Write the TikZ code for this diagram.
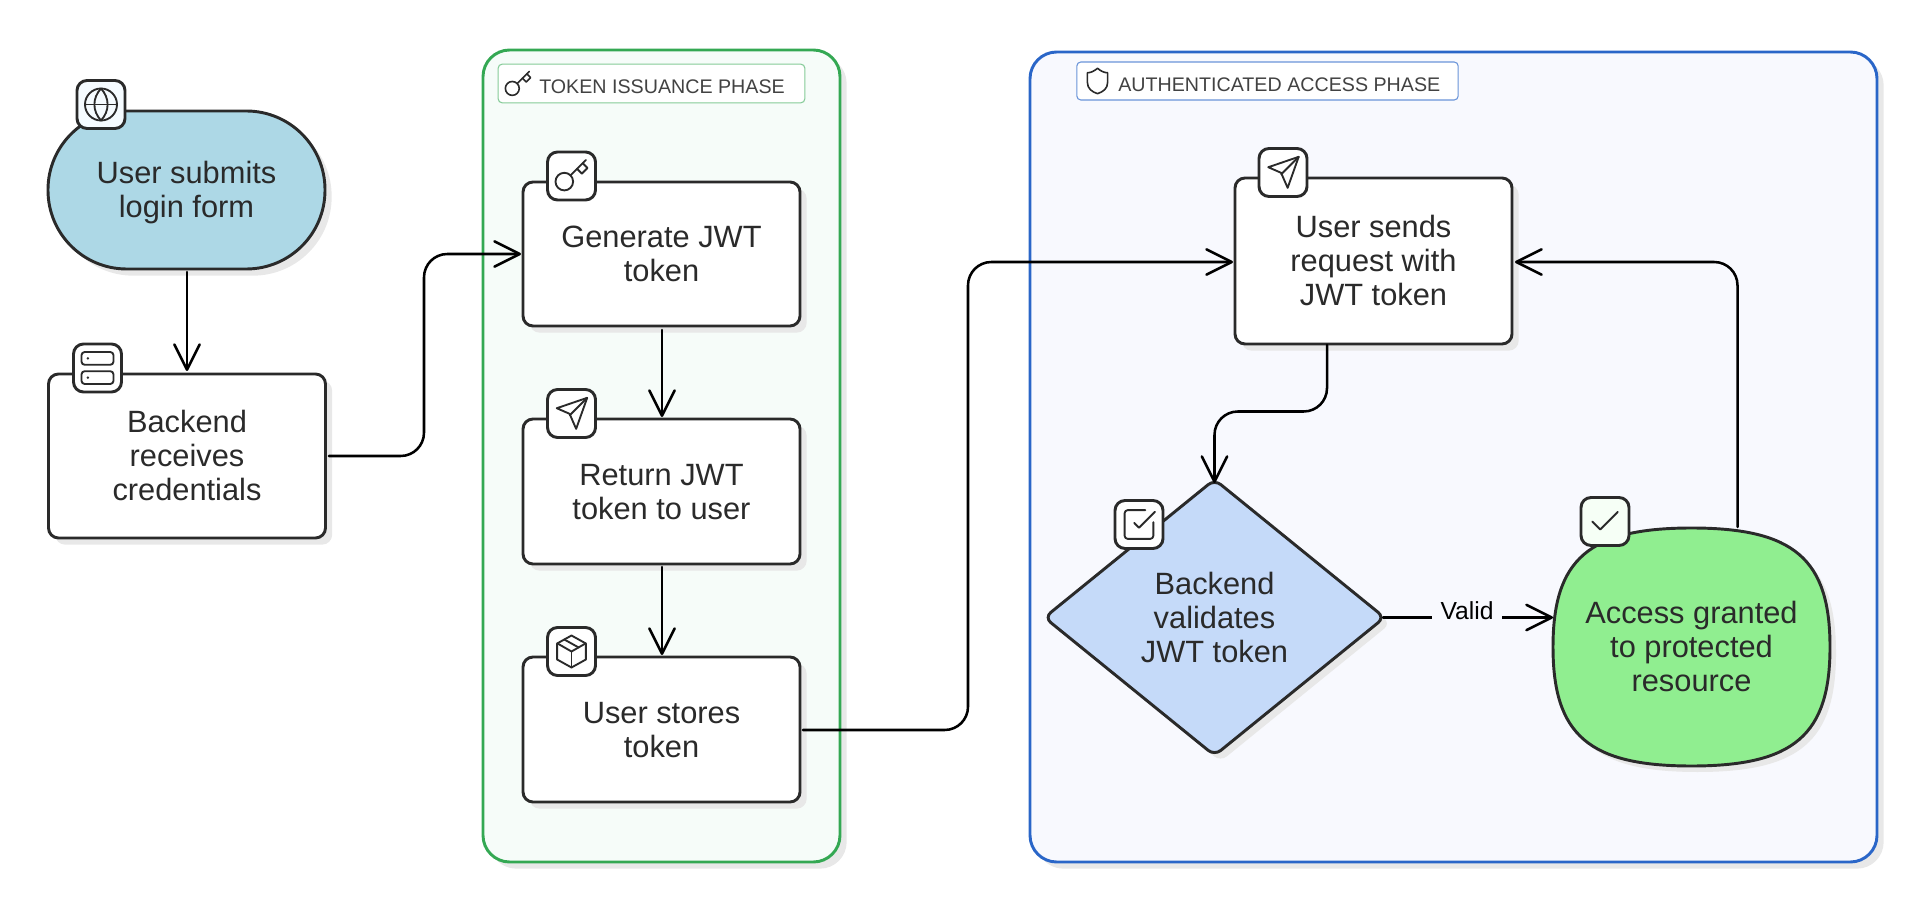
\documentclass[tikz,border=0pt]{standalone}
\usepackage{fontspec}
\setmainfont{Liberation Sans}
\usetikzlibrary{arrows.meta,shadows,shapes.geometric,calc}
\definecolor{ink}{HTML}{2A2A2A}
\definecolor{shadowgray}{HTML}{E8E8E8}
\definecolor{gline}{HTML}{34A853}
\definecolor{gfill}{HTML}{F6FCF9}
\definecolor{bline}{HTML}{2A66C8}
\definecolor{bfill}{HTML}{F8F9FE}
\definecolor{startfill}{RGB}{173,216,230}
\definecolor{grantfill}{RGB}{144,238,144}
\definecolor{checkfill}{RGB}{197,218,249}
\newcommand{\nodefont}{\fontsize{23.1pt}{25.5pt}\selectfont}
\newcommand{\ntxt}[1]{\raisebox{-3.1pt}[\height][\depth]{\begin{tabular}{@{}c@{}}#1\end{tabular}}}
\tikzset{
  x=0.75pt,y=-0.75pt,
  shad/.style={general shadow={shadow xshift=5pt,shadow yshift=-5pt,fill=shadowgray}},
  flowbox/.style={shape=rectangle,draw=ink,line width=2.2pt,fill=white,rounded corners=7.5pt,inner sep=0pt,
    text=ink,font=\nodefont,shad,anchor=center},
  plainlabel/.style={text=ink,font=\nodefont,inner sep=0pt},
  blobpath/.style={draw=ink,line width=2.2pt},
  groupbox/.style={shape=rectangle,line width=2.2pt,rounded corners=20pt,inner sep=0pt,shad},
  tagbox/.style={shape=rectangle,line width=0.8pt,rounded corners=3pt,fill=white,inner sep=0pt},
  tagtext/.style={text=black!74,font=\fontsize{14.75pt}{18pt}\selectfont,inner sep=0pt},
  iconbox/.style={shape=rectangle,draw=ink,line width=2.2pt,rounded corners=7.5pt,minimum width=36pt,minimum height=36pt,inner sep=0pt},
  iconline/.style={draw=ink,line width=1.4pt,line cap=round,line join=round},
  conn/.style={draw=black,line width=1.9pt,rounded corners=17.5pt,line cap=round,
    -{Straight Barb[length=19pt,width=19pt,line width=1.9pt,round]}},
}
\newcommand{\iconat}[3]{\begin{scope}[shift={(#1,#2)},x=1.2pt,y=-1.2pt,xshift=-14.4pt,yshift=14.4pt,iconline]#3\end{scope}}
\newcommand{\icglobe}{\draw (12,12) circle[radius=12pt]; \draw (2,12)--(22,12); \draw (12,2) .. controls (6.5,8) and (6.5,16) .. (12,22) .. controls (17.5,16) and (17.5,8) .. (12,2);}
\newcommand{\ickey}{\draw (7.5,15.5) circle[radius=6.6pt]; \draw (21,2)--(11.4,11.6); \draw (15.5,7.5)--(18.5,10.5)--(22,7)--(19,4);}
\newcommand{\icsend}{\draw (21.8,2.2)--(2.8,8.7)--(10.8,12.2)--(14.9,21.6)--cycle; \draw (21.8,2.2)--(10.9,13.1);}
\newcommand{\icpack}{\draw (12,2)--(21,7)--(21,17)--(12,22)--(3,17)--(3,7)--cycle; \draw (3.3,7)--(12,12)--(20.7,7); \draw (12,22)--(12,12); \draw (7.5,4.5)--(16.5,9.5);}
\newcommand{\icserver}{\draw[rounded corners=2.4pt] (2,2) rectangle (22,10); \draw[rounded corners=2.4pt] (2,14) rectangle (22,22); \fill[ink] (6,6) circle[radius=1pt]; \fill[ink] (6,18) circle[radius=1pt];}
\newcommand{\iccheckbox}{\draw[rounded corners=2.4pt] (21,10.5)--(21,21)--(3,21)--(3,3)--(16,3); \draw (9,11)--(12,14)--(22,4);}
\newcommand{\iccheck}{\draw (20,6)--(9,17)--(4,12);}
\newcommand{\icshield}{\draw (20,13) .. controls (20,18) and (16.5,20.5) .. (12,22) .. controls (7.5,20.5) and (4,18) .. (4,13)--(4,5.5) .. controls (7,5.5) and (9.5,4) .. (12,2) .. controls (14.5,4) and (17,5.5) .. (20,5.5)--cycle;}
% blob outline around (0,0), half sizes 138.5 x 119
\newcommand{\blobshape}{(138.5,0) .. controls (138.5,88) and (102.5,119) .. (0,119) .. controls (-102.5,119) and (-138.5,88) .. (-138.5,0) .. controls (-138.5,-88) and (-102.5,-119) .. (0,-119) .. controls (102.5,-119) and (138.5,-88) .. (138.5,0) -- cycle}
\newcommand{\diamshape}{(1214.5,479.5)--(1384.5,617.5)--(1214.5,755.5)--(1044.5,617.5)--cycle}
\begin{document}
\begin{tikzpicture}
\useasboundingbox (0,0) rectangle (1927,912);
% groups
\node[groupbox,draw=gline,fill=gfill,minimum width=267.75pt,minimum height=609pt] (gtoken) at (661.5,456) {};
\node[groupbox,draw=bline,fill=bfill,minimum width=635.25pt,minimum height=607.5pt] (gaccess) at (1453.5,457) {};
\node[tagbox,draw=gline!60,minimum width=230pt,minimum height=29pt] (ltoken) at (651.5,83.5) {};
\node[tagbox,draw=bline!70,minimum width=286pt,minimum height=28.5pt] (laccess) at (1267.5,81) {};
\node[tagtext,anchor=west] (ttoken) at (539,87) {TOKEN ISSUANCE PHASE};
\node[tagtext,anchor=west] (taccess) at (1118,85) {AUTHENTICATED ACCESS PHASE};
% nodes
\node[flowbox,minimum width=207.75pt,minimum height=118.5pt,rounded corners=59pt,fill=startfill] (start) at (186.5,190) {\ntxt{User submits\\login form}};
\node[flowbox,minimum width=207.75pt,minimum height=123pt] (backend) at (187,456) {\ntxt{Backend\\receives\\credentials}};
\node[flowbox,minimum width=207.75pt,minimum height=108pt] (gen) at (661.5,254) {\ntxt{Generate JWT\\token}};
\node[flowbox,minimum width=207.75pt,minimum height=108.75pt] (ret) at (661.5,491.5) {\ntxt{Return JWT\\token to user}};
\node[flowbox,minimum width=207.75pt,minimum height=108.75pt] (store) at (661.5,729.5) {\ntxt{User stores\\token}};
\node[flowbox,minimum width=207.75pt,minimum height=124.5pt] (send) at (1373.5,261) {\ntxt{User sends\\request with\\JWT token}};
% access blob
\begin{scope}[shift={(1697.5,653)}]\path[fill=shadowgray] \blobshape;\end{scope}
\begin{scope}[shift={(1691.5,647)}]\path[blobpath,fill=grantfill] \blobshape;\end{scope}
\node[plainlabel] (grant) at (1691.5,647) {\ntxt{Access granted\\to protected\\resource}};
% decision diamond
\path[fill=shadowgray,rounded corners=6pt,shift={(6,6)}] \diamshape;
\path[blobpath,fill=checkfill,rounded corners=6pt] \diamshape;
\node[plainlabel] (check) at (1214.5,617.5) {\ntxt{Backend\\validates\\JWT token}};
% connectors
\coordinate (a1) at (187,272);
\coordinate (b1) at (187,371);
\draw[conn] (a1)--(b1);
\coordinate (a2) at (329,456);
\coordinate (b2) at (521,254);
\draw[conn] (a2)-|(424,355)|-(b2);
\coordinate (a3) at (662,330);
\coordinate (b3) at (662,417);
\draw[conn] (a3)--(b3);
\coordinate (a4) at (662,567);
\coordinate (b4) at (662,655);
\draw[conn] (a4)--(b4);
\coordinate (a5) at (803,730);
\coordinate (b5) at (1233,262);
\draw[conn] (a5)-|(968,500)|-(b5);
\coordinate (a6) at (1327,345);
\coordinate (b6) at (1214.5,483);
\draw[conn] (a6)|-(1270,411.5)-|(b6);
\coordinate (a7) at (1737.5,527);
\coordinate (b7) at (1515,262);
\draw[conn] (a7)|-(b7);
\coordinate (a8) at (1383,617.5);
\coordinate (b8) at (1553,617.5);
\draw[conn] (a8)--(b8);
\node[fill=bfill,inner xsep=6.5pt,inner ysep=4pt,text=black,font=\fontsize{18.5pt}{20pt}\selectfont] (lvalid) at (1467,611) {Valid};
% icon boxes
\node[iconbox,fill={rgb,255:red,245;green,251;blue,255}] (i1) at (101,104.5) {};
\node[iconbox,fill=white] (i2) at (97.5,368) {};
\node[iconbox,fill=white] (i3) at (571.5,176) {};
\node[iconbox,fill=white] (i4) at (571.5,413.5) {};
\node[iconbox,fill=white] (i5) at (571.5,651.5) {};
\node[iconbox,fill=white] (i6) at (1283,172.5) {};
\node[iconbox,fill=white] (i7) at (1139,524.5) {};
\node[iconbox,fill={rgb,255:red,246;green,255;blue,246}] (i8) at (1605,521.5) {};
\iconat{101}{104.5}{\icglobe}
\iconat{97.5}{368}{\icserver}
\iconat{571.5}{176}{\ickey}
\iconat{571.5}{413.5}{\icsend}
\iconat{571.5}{651.5}{\icpack}
\iconat{1283}{172.5}{\icsend}
\iconat{1139}{524.5}{\iccheckbox}
\iconat{1605}{521.5}{\iccheck}
\begin{scope}[shift={(518,84)},x=0.95pt,y=-0.95pt,xshift=-11.4pt,yshift=11.4pt,iconline,line width=1.2pt]\draw (7.5,15.5) circle[radius=5.2pt]; \draw (21,2)--(11.4,11.6); \draw (15.5,7.5)--(18.5,10.5)--(22,7)--(19,4);\end{scope}
\begin{scope}[shift={(1097.5,81)},x=0.95pt,y=-0.95pt,xshift=-11.4pt,yshift=11.4pt,iconline,line width=1.2pt]\icshield\end{scope}
\end{tikzpicture}
\end{document}
